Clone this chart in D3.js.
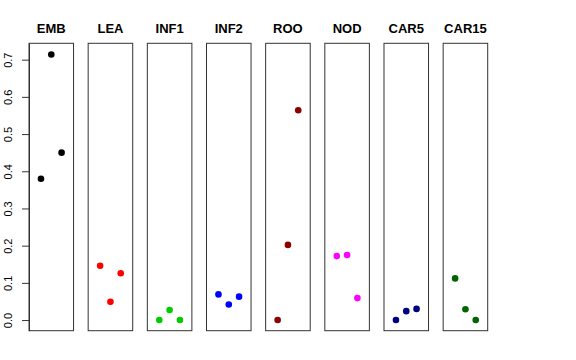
<!DOCTYPE html>
<html><head><meta charset="utf-8">
<script src="https://cdn.jsdelivr.net/npm/d3@7"></script>
<style>body{margin:0;background:#fff}svg{display:block}</style>
</head><body><svg id="c" width="576" height="360"></svg>
<script>
const groups = ["EMB","LEA","INF1","INF2","ROO","NOD","CAR5","CAR15"];
const colors = ["#000000","#ff0000","#00cd00","#0000ff","#8b0000","#ff00ff","#000080","#006400"];
// three replicate values per group (left, middle, right jitter position)
const rep1 = [0.380, 0.146, 0.000, 0.069, 0.000, 0.172, 0.000, 0.112];
const rep2 = [0.714, 0.049, 0.027, 0.042, 0.202, 0.175, 0.024, 0.029];
const rep3 = [0.450, 0.126, 0.000, 0.063, 0.564, 0.059, 0.030, 0.000];
const yTicks = [0, 0.1, 0.2, 0.3, 0.4, 0.5, 0.6, 0.7];

const svg = d3.select("#c");
const font = "'Liberation Sans', Arial, Helvetica, sans-serif";

const panelX = d3.scaleBand().domain(groups).range([29, 487.7]).paddingInner(0.247).paddingOuter(0);
const y = d3.scaleLinear().domain([-0.0286, 0.744]).range([330.7, 43.3]);
const jit = d3.scalePoint().domain([0,1,2]).padding(0);

groups.forEach((g, i) => {
  const x0 = panelX(g), w = panelX.bandwidth();
  const gp = svg.append("g");
  gp.append("rect").attr("x", x0).attr("y", y(0.744)).attr("width", w).attr("height", y(-0.0286) - y(0.744))
    .attr("fill", "none").attr("stroke", "#333").attr("stroke-width", 1);
  gp.append("text").attr("x", x0 + w/2).attr("y", 33).attr("text-anchor", "middle")
    .attr("font-family", font).attr("font-weight", "bold").attr("font-size", 13).text(g);
  const jx = jit.copy().range([x0 + w/2 - 10.3, x0 + w/2 + 10.3]);
  const vals = [rep1[i], rep2[i], rep3[i]];
  gp.selectAll("circle").data(vals).join("circle")
    .attr("cx", (d, k) => jx(k)).attr("cy", d => y(d)).attr("r", 3.3).attr("fill", colors[i]);
});

const ax = svg.append("g").attr("transform", "translate(29,0)")
  .call(d3.axisLeft(y).tickValues(yTicks).tickFormat(d3.format(".1f")).tickSize(7).tickSizeOuter(0));
ax.select(".domain").attr("stroke", "#333");
ax.selectAll(".tick line").attr("stroke", "#333");
ax.selectAll(".tick text").attr("font-family", font).attr("font-size", 11).attr("fill", "#000")
  .attr("x", null).attr("y", null).attr("dy", null).attr("text-anchor", "middle")
  .attr("transform", "translate(-17.5,0) rotate(-90)");
</script></body></html>
